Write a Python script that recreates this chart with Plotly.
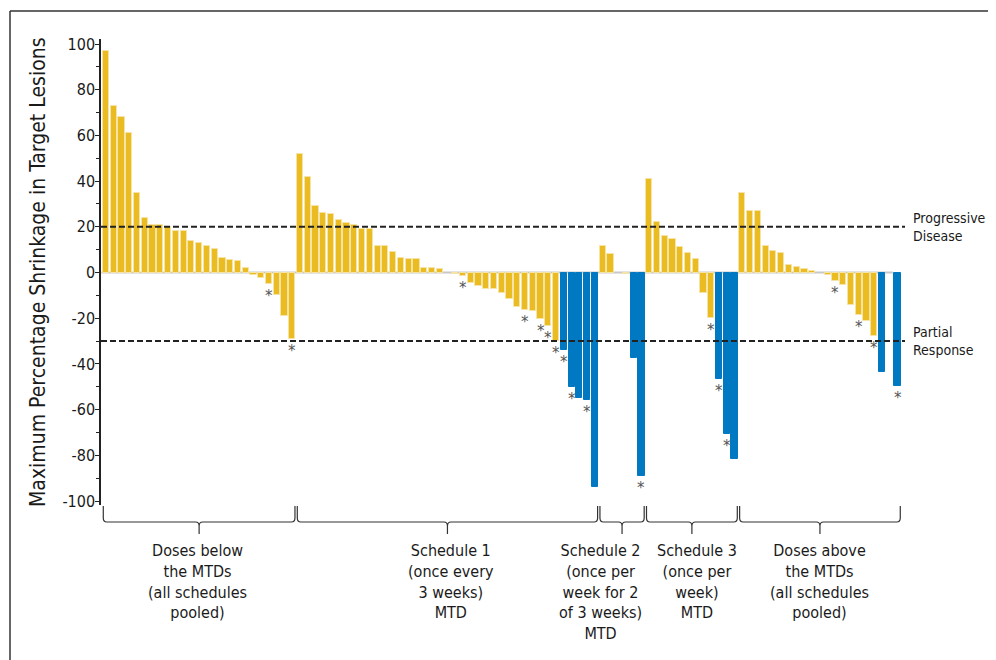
import plotly.graph_objects as go

# ---------------- data ----------------
group_labels = [
    "Doses below<br>the MTDs<br>(all schedules<br>pooled)",
    "Schedule 1<br>(once every<br>3 weeks)<br>MTD",
    "Schedule 2<br>(once per<br>week for 2<br>of 3 weeks)<br>MTD",
    "Schedule 3<br>(once per<br>week)<br>MTD",
    "Doses above<br>the MTDs<br>(all schedules<br>pooled)",
]

below_mtd = [97, 73, 68, 61, 35, 24, 21, 21, 20, 18, 18, 14, 13, 11.5, 10.5,
             6.5, 5.5, 5, 2, -1, -2.5, -5, -10, -19, -29]
below_mtd_blue = []
below_mtd_star = [21, 24]

schedule1 = [52, 42, 29, 26, 25.5, 23, 21.5, 21, 19, 19, 11.5, 11.5, 9, 6.5, 6,
             6, 2, 2, 1.5, 0, -0.8, -1.6, -4.6, -6, -7, -7.3, -9, -11.5, -15.3,
             -16.2, -16.8, -20.3, -23.5, -30, -34, -50, -55, -56, -94]
schedule1_blue = [34, 35, 36, 37, 38]
schedule1_star = [21, 29, 31, 32, 33, 34, 35, 37]

schedule2 = [11.5, 8, 0, -0.8, -37.4, -89]
schedule2_blue = [4, 5]
schedule2_star = [5]

schedule3 = [41, 22, 16, 14.5, 11, 8.5, 6, -9, -20, -46.5, -70.5, -81.5]
schedule3_blue = [9, 10, 11]
schedule3_star = [8, 9, 10]

above_mtd = [35, 27, 27, 11.5, 9.5, 8.5, 3.5, 2.5, 1.5, 0.7, 0, -1, -3.5, -5.5,
             -14, -18.5, -21, -28, -43.5, 0, -49.5]
above_mtd_blue = [18, 20]
above_mtd_star = [12, 15, 17, 20]

ytick_vals = [100, 80, 60, 40, 20, 0, -20, -40, -60, -80, -100]
ref_lines = [(20, "Progressive<br>Disease"), (-30, "Partial<br>Response")]

groups = [
    (below_mtd, below_mtd_blue, below_mtd_star),
    (schedule1, schedule1_blue, schedule1_star),
    (schedule2, schedule2_blue, schedule2_star),
    (schedule3, schedule3_blue, schedule3_star),
    (above_mtd, above_mtd_blue, above_mtd_star),
]

# ---------------- styling ----------------
YELLOW = "#EBBB22"
YELLOW_EDGE = "#F6E3A6"
BLUE = "#0079C2"
FONT = "DejaVu Sans Condensed, Liberation Sans Narrow, Arial Narrow, sans-serif"
TXT = "#1a1a1a"

OFF = 8  # page body margin
W, H = 996 - OFF, 660 - OFF
# plot area in page pixels
PL, PR, PT, PB = 101, 905, 39, 505
L, R, T, B = PL - OFF, PR - OFF, PT - OFF, PB - OFF
PW, PH = R - L, B - T


def px_x(p):
    return (p - PL) / PW


def px_y(p):
    return (PB - p) / PH


# ---------------- build series ----------------
xs, ys, colors, edges, edge_w = [], [], [], [], []
star_x, star_y = [], []
bounds = []
idx = 0
for vals, blues, stars in groups:
    start = idx
    for j, v in enumerate(vals):
        xs.append(idx)
        ys.append(v)
        is_blue = j in blues
        colors.append(BLUE if is_blue else YELLOW)
        edges.append(BLUE if is_blue else YELLOW_EDGE)
        edge_w.append(0 if v == 0 else 1)
        if j in stars:
            star_x.append(idx)
            star_y.append(v)
        idx += 1
    bounds.append((start, idx - 1))
n = idx

fig = go.Figure()
fig.add_trace(go.Bar(
    x=xs, y=ys, width=0.8,
    marker=dict(color=colors, line=dict(color=edges, width=edge_w)),
    showlegend=False, hoverinfo="skip",
))

annotations = []
# asterisks below flagged bars
for sx, sy in zip(star_x, star_y):
    annotations.append(dict(
        x=sx, xref="x", y=sy, yref="y", yanchor="top", xanchor="center",
        text="*", showarrow=False, yshift=-1,
        font=dict(family="DejaVu Sans", size=15, color="#555555"),
    ))

shapes = []
# zero line
shapes.append(dict(type="line", xref="x", yref="y", x0=-0.6, x1=n - 1.6, y0=0, y1=0,
                   line=dict(color="#c8c8c8", width=2), layer="below"))
# reference dashed lines
for yv, _ in ref_lines:
    shapes.append(dict(type="line", xref="paper", yref="y", x0=0, x1=1, y0=yv, y1=yv,
                       line=dict(color="#222222", width=2, dash="6px,3px"), layer="above"))

# brackets
y_top = px_y(506)
y_h = px_y(522)
y_bot = px_y(534)
ry = 4 / PH
rx = 0.45
for k, (s, e) in enumerate(bounds):
    xa = s - 0.5 + 0.15
    xb = e + 0.5 - 0.15
    xm = (xa + xb) / 2
    path = (f"M {xa},{y_top} L {xa},{y_h + ry} Q {xa},{y_h} {xa + rx},{y_h} "
            f"L {xm - rx},{y_h} Q {xm},{y_h} {xm},{y_h - ry} L {xm},{y_bot} "
            f"M {xm},{y_h - ry} Q {xm},{y_h} {xm + rx},{y_h} "
            f"L {xb - rx},{y_h} Q {xb},{y_h} {xb},{y_h + ry} L {xb},{y_top}")
    shapes.append(dict(type="path", xref="x", yref="paper", path=path,
                       line=dict(color="#333333", width=1.2)))

# outer frame (top and left edges)
shapes.append(dict(type="line", xref="paper", yref="paper",
                   x0=px_x(10), x1=px_x(1000), y0=px_y(11), y1=px_y(11),
                   line=dict(color="#333333", width=1.5)))
shapes.append(dict(type="line", xref="paper", yref="paper",
                   x0=px_x(10), x1=px_x(10), y0=px_y(11), y1=px_y(665),
                   line=dict(color="#333333", width=1.5)))

label_shift = [-2, 4, -22, 5, 0]
for k, (s, e) in enumerate(bounds):
    xm = (s + e) / 2
    annotations.append(dict(
        x=xm, xref="x", y=px_y(539), yref="paper", yanchor="top", xanchor="center",
        text=group_labels[k], showarrow=False, align="center", xshift=label_shift[k],
        font=dict(family=FONT, size=16, color=TXT),
    ))
for yv, txt in ref_lines:
    annotations.append(dict(
        x=px_x(911), xref="paper", y=yv, yref="y", xanchor="left", yanchor="middle",
        text=txt, showarrow=False, align="left",
        font=dict(family=FONT, size=14, color=TXT),
    ))
annotations.append(dict(
    x=px_x(38), xref="paper", y=px_y(272), yref="paper", xanchor="center", yanchor="middle",
    text="Maximum Percentage Shrinkage in Target Lesions", textangle=-90, showarrow=False,
    font=dict(family=FONT, size=21, color=TXT),
))

fig.update_layout(
    width=W, height=H,
    margin=dict(l=L, r=W - R, t=T, b=H - B, pad=0),
    paper_bgcolor="white", plot_bgcolor="white",
    bargap=0, showlegend=False,
    shapes=shapes, annotations=annotations,
    xaxis=dict(range=[-0.644, 102.96], visible=False, fixedrange=True),
    yaxis=dict(
        range=[-101.75, 102.2], tickvals=ytick_vals, ticktext=[str(v) for v in ytick_vals],
        ticks="outside", ticklen=4, tickwidth=1.2, tickcolor="#222",
        minor=dict(dtick=10, tick0=0, ticks="outside", ticklen=3, tickcolor="#222", tickwidth=1),
        showline=True, linecolor="#222", linewidth=1.5,
        showgrid=False, zeroline=False,
        ticklabelstandoff=-3,
        tickfont=dict(family=FONT, size=16, color=TXT),
    ),
)

fig.write_html("out.html")
